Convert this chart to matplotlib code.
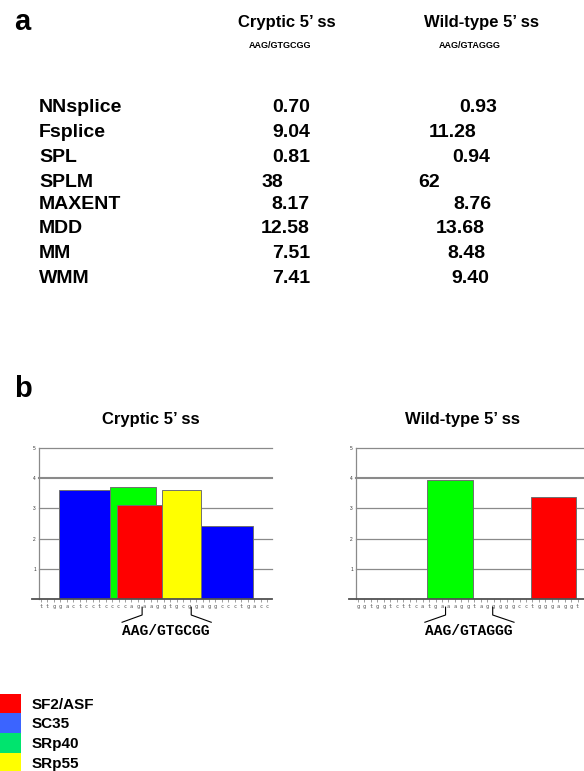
import matplotlib
matplotlib.use("Agg")
import matplotlib.pyplot as plt
from matplotlib.patches import Rectangle

plt.rcParams['font.family'] = ['Liberation Sans', 'DejaVu Sans']

W, H = 584, 771

# ---- panel a: splice site scores ----
methods = ['NNsplice', 'Fsplice', 'SPL', 'SPLM', 'MAXENT', 'MDD', 'MM', 'WMM']
cryptic_scores = ['0.70', '9.04', '0.81', '38', '8.17', '12.58', '7.51', '7.41']
wildtype_scores = ['0.93', '11.28', '0.94', '62', '8.76', '13.68', '8.48', '9.40']

# ---- panel b: ESEfinder motif scores ----
factors = ['SF2/ASF', 'SC35', 'SRp40', 'SRp55']
factor_colors = {'SF2/ASF': '#ff0000', 'SC35': '#0000ff', 'SRp40': '#00ff00', 'SRp55': '#ffff00'}
legend_colors = ['#ff0000', '#3b64ff', '#00e46e', '#ffff00']

cryptic_seq = 'ttggactcctccccagaaggtgcggaggccctgacc'
cryptic_hits = ['SC35', 'SRp40', 'SF2/ASF', 'SRp55', 'SC35']
cryptic_start = [3, 11, 12, 19, 25]
cryptic_len = [8, 7, 7, 6, 8]
cryptic_val = [3.62, 3.71, 3.12, 3.60, 2.41]

wt_seq = 'ggtggtcttcatgaaaggtagggggcctgggaggt'
wt_hits = ['SRp40', 'SF2/ASF']
wt_start = [11, 27]
wt_len = [7, 7]
wt_val = [3.95, 3.38]

fig = plt.figure(figsize=(W / 100, H / 100), dpi=100)


def px(x, y):
    return x / W, 1 - y / H


def ftext(x, y, s, **kw):
    kw.setdefault('va', 'baseline')
    fig.text(*px(x, y), s, **kw)


# panel labels
ftext(14, 30, 'a', fontsize=21, fontweight='bold')
ftext(14, 397, 'b', fontsize=21, fontweight='bold')

# table header
ftext(287, 27, 'Cryptic 5\u2019 ss', fontsize=12, fontweight='bold', ha='center')
ftext(280, 48, 'AAG/GTGCGG', fontsize=6.5, fontweight='bold', ha='center')
ftext(481, 27, 'Wild-type 5\u2019 ss', fontsize=12, fontweight='bold', ha='center')
ftext(470, 48, 'AAG/GTAGGG', fontsize=6.5, fontweight='bold', ha='center')

row_base = [111.7, 136.7, 162.3, 187.3, 209.3, 232.7, 258.3, 282.7]
col1_right = [310, 310, 310, 283, 310, 310, 310, 310]
col2_right = [497, 476, 490, 440, 491, 485, 485, 489]
for i, m in enumerate(methods):
    y = row_base[i]
    ftext(39, y, m, fontsize=14, fontweight='bold')
    ftext(col1_right[i], y, cryptic_scores[i], fontsize=14, fontweight='bold', ha='right')
    ftext(col2_right[i], y, wildtype_scores[i], fontsize=14, fontweight='bold', ha='right')

# motif score charts
STEP = 6.46  # pixels per nucleotide
y0_px, y5_px = 599, 448


def motif_chart(x0_px, seq, hits, starts, lens, vals, title, title_x, site, brackets, label_x):
    n = 36
    ax = fig.add_axes([x0_px / W, 1 - y0_px / H, n * STEP / W, (y0_px - y5_px) / H])
    ax.set_xlim(0, n)
    ax.set_ylim(0, 5)
    for s in ax.spines.values():
        s.set_visible(False)
    for g in range(1, 6):
        ax.axhline(g, color='#8a8a8a', lw=1.5 if g == 4 else 0.9, zorder=0, clip_on=False)
    ax.plot([0, 0], [0, 5], color='#8a8a8a', lw=0.9, clip_on=False)
    ax.plot([-1.15, n], [0, 0], color='#505050', lw=1.3, clip_on=False, zorder=5)
    for f, s, l, v in zip(hits, starts, lens, vals):
        ax.bar(s, v, width=l, align='edge', color=factor_colors[f],
               edgecolor='#707070', linewidth=0.7, zorder=3)
    ax.set_yticks([1, 2, 3, 4, 5])
    ax.set_yticklabels(['1', '2', '3', '4', '5'], fontsize=3.5, color='#333333')
    ax.tick_params(axis='y', length=0, pad=2.5)
    pos = [i + 0.25 for i in range(len(seq))]
    ax.set_xticks(pos)
    ax.set_xticklabels(list(seq), fontsize=3.8, color='#555555', family='DejaVu Sans Mono')
    ax.tick_params(axis='x', length=2.5, width=0.5, color='#777777', pad=0.8)
    ax.set_facecolor('none')
    # splice-site bracket
    a, b, ca, cb = brackets
    ax.plot([a, a, ca], [-0.27, -0.53, -0.77], color='black', lw=0.8, clip_on=False)
    ax.plot([b, b, cb], [-0.27, -0.53, -0.77], color='black', lw=0.8, clip_on=False)
    ax.text(label_x, -1.07, site, fontsize=10.5, fontweight='bold', family='Liberation Mono',
            ha='center', va='center', clip_on=False)
    ftext(title_x, 424, title, fontsize=12, fontweight='bold', ha='center')
    return ax


motif_chart(39.4, cryptic_seq, cryptic_hits, cryptic_start, cryptic_len, cryptic_val,
            'Cryptic 5\u2019 ss', 151, 'AAG/GTGCGG', (15.9, 23.5, 12.8, 26.6), 19.6)
motif_chart(356.4, wt_seq, wt_hits, wt_start, wt_len, wt_val,
            'Wild-type 5\u2019 ss', 462, 'AAG/GTAGGG', (13.8, 21.1, 10.6, 24.4), 17.4)

# legend
leg_top = [694, 713, 733, 753]
leg_base = [709, 728, 748, 768]
for i, f in enumerate(factors):
    x, y = px(0, leg_top[i] + 19.5)
    fig.patches.append(Rectangle((x, y), 21 / W, 19.5 / H, transform=fig.transFigure,
                                 facecolor=legend_colors[i], edgecolor='none'))
    ftext(32, leg_base[i], f, fontsize=11, fontweight='bold')

fig.savefig('out.png', dpi=100)
